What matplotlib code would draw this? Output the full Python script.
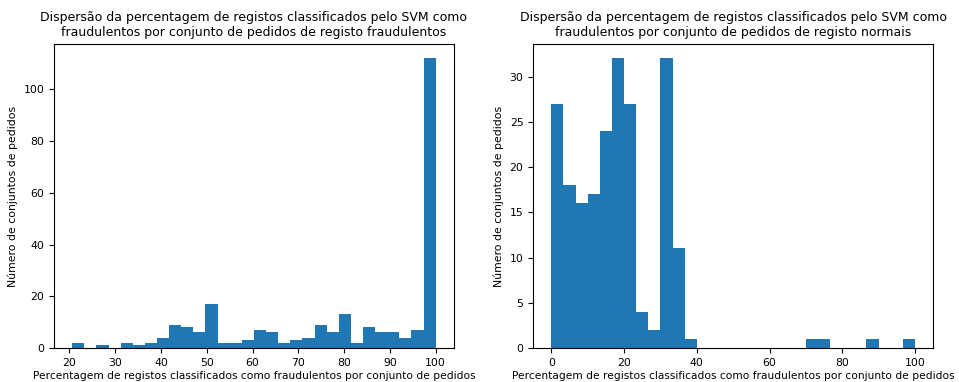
import numpy as np
import matplotlib
matplotlib.use('Agg')
import matplotlib.pyplot as plt

# Counts per bin (30 bins each)
fraud_lo = 20.6
fraud_counts = [2, 0, 1, 0, 2, 1, 2, 4, 9, 8, 6, 17, 2, 2, 3,
                7, 6, 2, 3, 4, 9, 6, 13, 2, 8, 6, 6, 4, 7, 112]

normal_lo = 0.0
normal_counts = [27, 18, 16, 17, 24, 32, 27, 4, 2, 32, 11, 1, 0, 0, 0,
                 0, 0, 0, 0, 0, 0, 1, 1, 0, 0, 0, 1, 0, 0, 1]

title_fraud = ("Dispersão da percentagem de registos classificados pelo SVM como\n"
               "fraudulentos por conjunto de pedidos de registo fraudulentos")
title_normal = ("Dispersão da percentagem de registos classificados pelo SVM como\n"
                "fraudulentos por conjunto de pedidos de registo normais")
xlabel = "Percentagem de registos classificados como fraudulentos por conjunto de pedidos"
ylabel = "Número de conjuntos de pedidos"

fig = plt.figure(figsize=(9.59, 3.82), dpi=100)
ax1 = fig.add_axes([0.0563, 0.089, 0.417, 0.796])
ax2 = fig.add_axes([0.556, 0.089, 0.417, 0.796])

for ax, lo, counts, title in [(ax1, fraud_lo, fraud_counts, title_fraud),
                              (ax2, normal_lo, normal_counts, title_normal)]:
    edges = np.linspace(lo, 100, len(counts) + 1)
    centers = (edges[:-1] + edges[1:]) / 2
    ax.hist(centers, bins=edges, weights=counts, color='#1f77b4')
    ax.set_title(title, fontsize=9)
    ax.set_xlabel(xlabel, fontsize=7.7, labelpad=2)
    ax.set_ylabel(ylabel, fontsize=7.8)
    ax.tick_params(labelsize=7.8)

fig.savefig('out.png', dpi=100)
